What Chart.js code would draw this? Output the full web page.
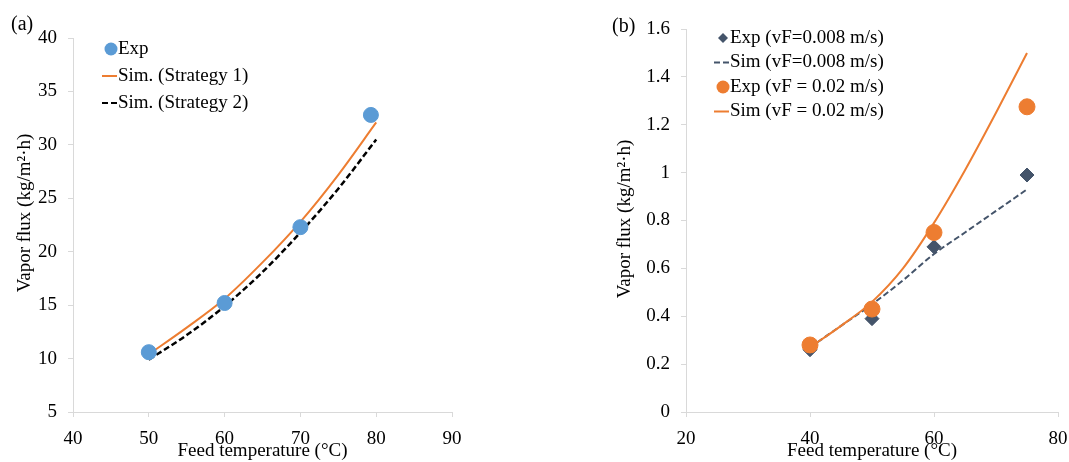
<!DOCTYPE html>
<html>
<head>
<meta charset="utf-8">
<script src="https://cdn.jsdelivr.net/npm/chart.js@4"></script>
<style>
  html, body { margin: 0; padding: 0; background: #fff; }
  #wrap { position: relative; width: 1069px; height: 462px; font-family: "Liberation Serif", "DejaVu Serif", serif; }
  .box { position: absolute; top: 0; height: 462px; }
  .tag { position: absolute; font-size: 20px; color: #000; }
</style>
</head>
<body>
<div id="wrap">
  <div class="box" style="left:0;width:535px"><canvas id="chartA"></canvas></div>
  <div class="box" style="left:535px;width:534px"><canvas id="chartB"></canvas></div>
  <div class="tag" style="left:11px;top:12px">(a)</div>
  <div class="tag" style="left:612px;top:14px">(b)</div>
</div>
<script>
// panel (a)
const expTempA = [50, 60, 70, 79.3];
const expFluxA = [10.6, 15.2, 22.3, 32.8];
const simTempA = [50, 55, 60, 65, 70, 75, 80];
const sim1FluxA = [10.4, 12.9, 15.6, 19.0, 22.8, 27.2, 32.1];
const sim2FluxA = [9.9, 12.2, 14.9, 18.1, 21.8, 25.9, 30.5];

// panel (b)
const expTempB = [40, 50, 60, 75];
const exp008B = [0.26, 0.39, 0.69, 0.99];
const exp02B = [0.28, 0.43, 0.75, 1.275];
const simTempB = [40, 45, 50, 55, 60, 65, 70, 75];
const sim008B = [0.27, 0.36, 0.45, 0.55, 0.66, 0.75, 0.84, 0.93];
const sim02B = [0.27, 0.36, 0.46, 0.60, 0.79, 1.01, 1.25, 1.50];

const FONT = '"Liberation Serif", "DejaVu Serif", serif';
const FS = 19;
const pts = (xs, ys) => xs.map((x, i) => ({ x: x, y: ys[i] }));

// draws the legend and the y title right on the canvas
const extras = {
  id: 'extras',
  afterDraw(chart, args, opts) {
    const ctx = chart.ctx;
    ctx.save();
    ctx.font = FS + 'px ' + FONT;
    ctx.fillStyle = '#000';
    ctx.textBaseline = 'middle';
    chart.data.datasets.forEach((ds, i) => {
      const y = opts.legendY + i * opts.legendGap;
      const mx = opts.legendX;
      if (ds.showLine) {
        ctx.strokeStyle = ds.borderColor;
        ctx.lineWidth = 2;
        ctx.setLineDash(ds.borderDash || []);
        ctx.beginPath();
        ctx.moveTo(mx - 10, y);
        ctx.lineTo(mx + 5, y);
        ctx.stroke();
        ctx.setLineDash([]);
      } else {
        ctx.fillStyle = ds.backgroundColor;
        ctx.beginPath();
        if (ds.pointStyle === 'rectRot') {
          ctx.moveTo(mx - 1, y - 5); ctx.lineTo(mx + 4, y); ctx.lineTo(mx - 1, y + 5); ctx.lineTo(mx - 6, y);
        } else {
          ctx.arc(mx - 1, y, 6.5, 0, Math.PI * 2);
        }
        ctx.fill();
      }
      ctx.fillStyle = '#000';
      ctx.textAlign = 'left';
      ctx.fillText(ds.label, mx + 6, y);
    });
    ctx.translate(opts.titleX, opts.titleY);
    ctx.rotate(-Math.PI / 2);
    ctx.textAlign = 'center';
    ctx.fillText('Vapor flux (kg/m\u00b2\u00b7h)', 0, 0);
    ctx.restore();
  }
};

function axes(xmin, xmax, xstep, ymin, ymax, ystep, yWidth) {
  const grid = { drawOnChartArea: false, drawTicks: true, tickLength: 5, color: '#d9d9d9' };
  const ticks = { color: '#000', font: { family: FONT, size: FS } };
  return {
    x: {
      type: 'linear', min: xmin, max: xmax,
      ticks: Object.assign({ stepSize: xstep, padding: 11 }, ticks),
      grid: grid, border: { color: '#d9d9d9' },
      title: { display: true, text: 'Feed temperature (\u00b0C)', color: '#000', font: { family: FONT, size: FS }, padding: 0 },
      afterFit(s) { s.height = 50; s.paddingLeft = 0; s.paddingRight = 0; }
    },
    y: {
      type: 'linear', min: ymin, max: ymax,
      ticks: Object.assign({ stepSize: ystep, padding: 11, callback: v => String(Number(v.toFixed(2))) }, ticks),
      grid: grid, border: { color: '#d9d9d9' },
      afterFit(s) { s.width = yWidth; }
    }
  };
}

new Chart(document.getElementById('chartA'), {
  type: 'scatter',
  data: {
    datasets: [
      { label: 'Exp', data: pts(expTempA, expFluxA), backgroundColor: '#5b9bd5', borderColor: '#5b9bd5', pointRadius: 7.5, pointHoverRadius: 7.5, order: 0 },
      { label: 'Sim. (Strategy 1)', data: pts(simTempA, sim1FluxA), showLine: true, borderColor: '#ed7d31', borderWidth: 2, pointRadius: 0, cubicInterpolationMode: 'monotone', order: 1 },
      { label: 'Sim. (Strategy 2)', data: pts(simTempA, sim2FluxA), showLine: true, borderColor: '#000', borderDash: [6, 3], borderWidth: 2.5, pointRadius: 0, cubicInterpolationMode: 'monotone', order: 2 }
    ]
  },
  options: {
    responsive: true,
    maintainAspectRatio: false,
    animation: false,
    layout: { padding: { left: 0, top: 38, right: 83, bottom: 0 } },
    scales: axes(40, 90, 10, 5, 40, 5, 73),
    plugins: {
      legend: { display: false },
      tooltip: { enabled: false },
      extras: { legendX: 112, legendY: 49, legendGap: 27, titleX: 25, titleY: 213 }
    }
  },
  plugins: [extras]
});

new Chart(document.getElementById('chartB'), {
  type: 'scatter',
  data: {
    datasets: [
      { label: 'Exp (vF=0.008 m/s)', data: pts(expTempB, exp008B), backgroundColor: '#44546a', borderColor: '#44546a', pointStyle: 'rectRot', pointRadius: 7, pointHoverRadius: 7, order: 1 },
      { label: 'Sim (vF=0.008 m/s)', data: pts(simTempB, sim008B), showLine: true, borderColor: '#44546a', borderDash: [6, 3], borderWidth: 2, pointRadius: 0, cubicInterpolationMode: 'monotone', order: 3 },
      { label: 'Exp (vF = 0.02 m/s)', data: pts(expTempB, exp02B), backgroundColor: '#ed7d31', borderColor: '#ed7d31', pointRadius: 8, pointHoverRadius: 8, order: 0 },
      { label: 'Sim (vF = 0.02 m/s)', data: pts(simTempB, sim02B), showLine: true, borderColor: '#ed7d31', borderWidth: 2, pointRadius: 0, cubicInterpolationMode: 'monotone', order: 2 }
    ]
  },
  options: {
    responsive: true,
    maintainAspectRatio: false,
    animation: false,
    layout: { padding: { left: 71, top: 29, right: 11, bottom: 0 } },
    scales: axes(20, 80, 20, 0, 1.6, 0.2, 80),
    plugins: {
      legend: { display: false },
      tooltip: { enabled: false },
      extras: { legendX: 189, legendY: 38, legendGap: 24.5, titleX: 90, titleY: 219 }
    }
  },
  plugins: [extras]
});
</script>
</body>
</html>
